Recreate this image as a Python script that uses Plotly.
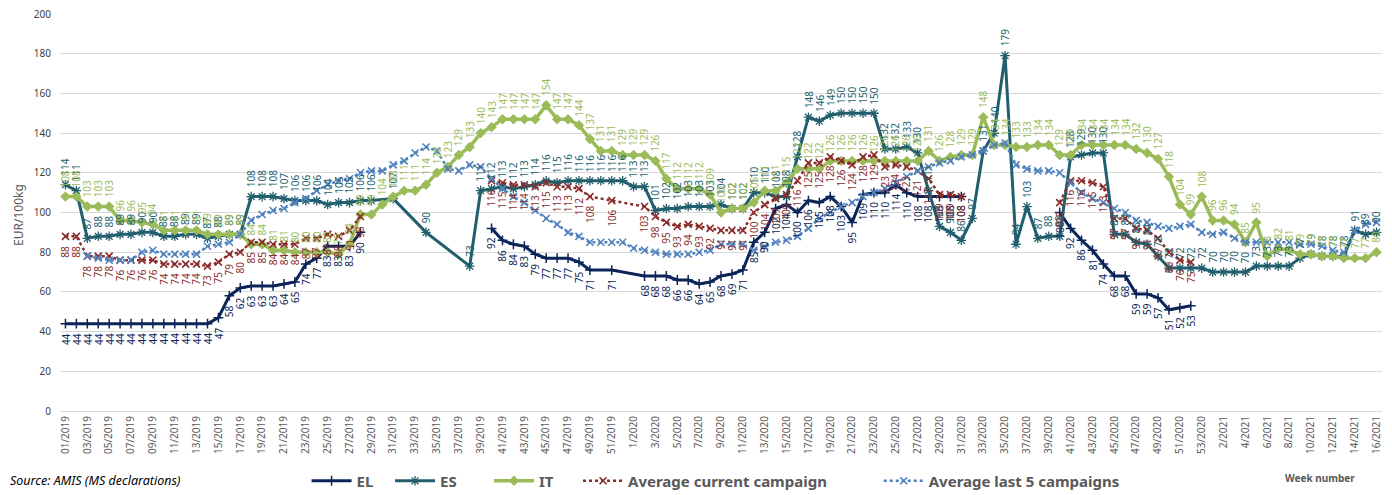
import plotly.graph_objects as go

# ---------------- categories / tick labels ----------------
weeks = ([f"{w:02d}/2019" for w in range(1, 53)]
         + [f"{w}/2020" for w in range(1, 54)]
         + [f"{w}/2021" for w in range(1, 17)])
tick_labels = weeks[::2]

N = None
# ---------------- series values (EUR/100kg) ----------------
EL = [44, 44, 44, 44, 44, 44, 44, 44, 44, 44, 44, 44, 44, 44,
      47, 58, 62, 63, 63, 63, 64, 65, 74, 77, 83, 83, 83, 90,
      N, N, N, N, N, N, N, N, N, N, N,
      92, 86, 84, 83, 79, 77, 77, 77, 75, 71, N, 71, N, N, 68, 68, 68, 66, 66, 64,
      65, 68, 69, 71, 85, 90, 102, 104, 100, 106, 105, 108, 103, 95, 109, 110, 110,
      114, 110, 108, 108, 108, 108, 108,
      N, N, N, N, N, N, N, N,
      100, 92, 86, 81, 74, 68, 68, 59, 59, 57, 51, 52, 53,
      N, N, N, N, N, N, N, N, N, N, N, N, N, N, N, N, N]

ES = [114, 111, 87, 88, 88, 89, 89, 90, 90, 88, 88, 89, 89, 87, 88, 89, 89,
      108, 108, 108, 107, 106, 106, 106, 104, 105, 105, 106, 106, N, 107, N, N, 90,
      N, N, N, 73, 111, 112, 113, 112, 113, 114, 116, 115, 116, 116, 116, 116, 116,
      116, 113, 113, 101, 102, 102, 103, 103, 103, 104, 102, 102, 110, 110, 108, 108,
      128, 148, 146, 149, 150, 150, 150, 150, 132, 132, 133, 130, 111, 93, 90, 86,
      97, 131, 140, 179, 84, 103, 87, 88, 88, 128, 129, 130, 130, 89, 89, 85, 84,
      78, 72, 72, 72, 72, 70, 70, 70, 70, 73, 73, 73, 73, 77, 79, 78, 78, 78, 91, 89, 90]

IT = [108, 108, 103, 103, 103, 96, 96, 95, 94, 91, 91, 91, 91, 89, 89, 89, 89,
      84, 84, 81, 81, 80, 80, 80, 80, 79, 84, 99, 99, 104, 108, 111, 111, 114, 120,
      123, 129, 133, 140, 143, 147, 147, 147, 147, 154, 147, 147, 144, 137, 131, 131,
      129, 129, 129, 126, 117, 112, 112, 112, 109, 100, 102, 102, 105, 111, 111, 115,
      122, 122, 122, 126, 126, 126, 126, 126, 126, 126, 126, 126, 131, 126, 128, 129,
      129, 148, 134, 134, 133, 133, 134, 134, 129, 129, 134, 134, 134, 134, 134, 132,
      130, 127, 118, 104, 99, 108, 96, 96, 94, 85, 95, 78, 82, 81, 79, 79, 78, 78, 77,
      77, 77, 80]

AVG_CUR = [88, 88, 78, 78, 78, 76, 76, 76, 76, 74, 74, 74, 74, 73, 75, 79, 80,
           85, 85, 84, 84, 84, 87, 87, 89, 88, 91, 98,
           N, N, N, N, N, N, N, N, N, N, N,
           116, 115, 114, 114, 113, 115, 113, 113, 112, 108, N, 106, N, N, 103, 98, 95,
           93, 94, 93, 92, 91, 91, 91, 100, 104, 107, 109, 116, 125, 125, 128, 126, 124,
           128, 129, 123, 124, 123, 121, 117, 109, 109, 108,
           N, N, N, N, N, N, N, N,
           105, 116, 116, 115, 113, 97, 97, 92, 91, 87, 80, 76, 75,
           N, N, N, N, N, N, N, N, N, N, N, N, N, N, N, N, N]

AVG_5 = [N, N, 78, 77, 76, 76, 76, 80, 81, 79, 79, 79, 79, 83, 84, 85, 89,
         96, 99, 101, 102, 105, 107, 111, 114, 116, 117, 120, 121, 121, 124, 126, 130,
         133, 131, 122, 121, 124, 123, 117, 112, 108, 105, 101, 97, 94, 90, 88, 85, 85,
         85, 85, 82, 81, 80, 79, 79, 79, 80, 81, 84, 84, 84, 81, 83, 85, 86, 88, 92, 97,
         100, 103, 105, 108, 110, 112, 115, 118, 121, 123, 125, 126, 128, 129, 131, 134,
         135, 124, 122, 121, 121, 120, 115, 110, 107, 105, 102, 100, 96, 95, 93, 92, 93,
         94, 90, 89, 90, 87, 85, 85, 85, 85, 85, 84, 84, 83, 81, 80, 91, 94, 95]

# ---------------- styles ----------------
C_EL = "#0B2559"
C_ES = "#215F6E"
C_IT = "#9BBB59"
C_CUR = "#8B2C2C"
C_5 = "#4F81BD"
GRID = "#D9D9D9"
TXT = "#595959"
FONT = "Noto Sans"
NB = "\u00a0"


def build(vals):
    """x/y lists; short gaps are bridged, long gaps break the line."""
    xs, ys, last = [], [], None
    for i, v in enumerate(vals):
        if v is None:
            continue
        if last is not None and i - last > 4:
            xs.append(weeks[last + 1])
            ys.append(None)
        xs.append(weeks[i])
        ys.append(v)
        last = i
    return xs, ys


fig = go.Figure()

series = [
    ("EL", 3, EL, dict(color=C_EL, width=3), dict(symbol="cross-thin-open", size=7, line=dict(color=C_EL, width=1.5))),
    ("ES", 7, ES, dict(color=C_ES, width=3), dict(symbol="asterisk-open", size=8, line=dict(color=C_ES, width=1.3))),
    ("IT", 5, IT, dict(color=C_IT, width=3.5), dict(symbol="diamond", size=8, color=C_IT)),
    ("Average current campaign", 12, AVG_CUR, dict(color=C_CUR, width=2.5, dash="dot"),
     dict(symbol="x-thin-open", size=7, line=dict(color=C_CUR, width=1.6))),
    ("Average last 5 campaigns", 0, AVG_5, dict(color=C_5, width=2.5, dash="dot"),
     dict(symbol="x-thin-open", size=7, line=dict(color=C_5, width=1.6))),
]

for name, pad, vals, line, marker in series:
    xs, ys = build(vals)
    fig.add_trace(go.Scatter(x=xs, y=ys, mode="lines+markers", name="<b>" + name + "</b>" + NB * pad,
                             line=line, marker=marker, connectgaps=False,
                             hovertemplate=name + ": %{y}<extra>%{x}</extra>"))

# ---------------- rotated data labels ----------------
annotations = []
label_specs = [(EL, C_EL, "below"), (ES, C_ES, "above"), (IT, C_IT, "above"), (AVG_CUR, C_CUR, "below")]
for vals, col, pos in label_specs:
    for i, v in enumerate(vals):
        if v is None:
            continue
        annotations.append(dict(
            x=weeks[i], y=v, xref="x", yref="y", text=str(v), showarrow=False,
            textangle=-90, font=dict(family=FONT, size=10, color=col),
            xanchor="center", yanchor="bottom" if pos == "above" else "top",
            yshift=7 if pos == "above" else -7))

# axis title, source, week number
annotations.append(dict(text="EUR/100kg", xref="paper", yref="paper", x=-0.031, y=0.494,
                        textangle=-90, showarrow=False, xanchor="center", yanchor="middle",
                        font=dict(family=FONT, size=12, color=TXT)))
annotations.append(dict(text="<i>Source: AMIS (MS declarations)</i>", xref="paper", yref="paper",
                        x=-0.0393, y=-0.176, xanchor="left", yanchor="middle", showarrow=False,
                        font=dict(family=FONT, size=12.5, color="#000000")))
annotations.append(dict(text="<b>Week number</b>", xref="paper", yref="paper",
                        x=0.953, y=-0.169, xanchor="center", yanchor="middle", showarrow=False,
                        font=dict(family=FONT, size=10, color=TXT)))

fig.update_layout(
    width=1384, height=487,
    margin=dict(l=52, r=10, t=6, b=84, autoexpand=False),
    paper_bgcolor="white", plot_bgcolor="white",
    font=dict(family=FONT, color=TXT),
    showlegend=True,
    legend=dict(orientation="h", x=0.1865, y=0.0287, xref="paper", yref="container",
                xanchor="left", yanchor="middle",
                font=dict(family=FONT, size=15, color=TXT), bgcolor="rgba(0,0,0,0)",
                itemwidth=40, tracegroupgap=0),
    annotations=annotations,
    xaxis=dict(type="category", categoryorder="array", categoryarray=weeks,
               range=[-0.5, len(weeks) - 0.5], tickmode="array", tickvals=tick_labels,
               ticktext=tick_labels, tickangle=-90, showgrid=False, showline=True,
               linecolor=GRID, linewidth=1, ticks="", zeroline=False, automargin=False,
               tickfont=dict(family=FONT, size=10, color=TXT)),
    yaxis=dict(range=[0, 200], dtick=20, showgrid=True, gridcolor=GRID, gridwidth=1,
               zeroline=False, showline=False, ticks="", automargin=False,
               ticklabelstandoff=8, ticklabeloverflow="allow",
               tickfont=dict(family=FONT, size=10, color="#404040")),
)

fig.write_html("out.html")
